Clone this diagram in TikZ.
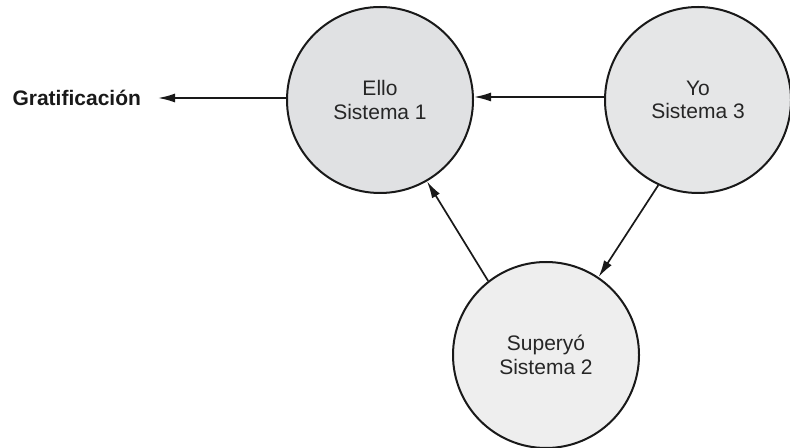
\documentclass[tikz,border=0pt]{standalone}
\usepackage{fontspec}
\setmainfont{Liberation Sans}
\usetikzlibrary{arrows.meta}
\definecolor{idgray}{RGB}{224,225,227}
\definecolor{egogray}{RGB}{229,230,231}
\definecolor{supgray}{RGB}{238,238,238}

\begin{document}
\begin{tikzpicture}[x=0.5pt, y=-0.5pt,
	sistema/.style={circle, draw=black!90, line width=1pt, minimum size=93pt, align=center, inner sep=0pt, font=\fontsize{10.5}{11.8}\selectfont, text=black!85},
	flecha/.style={line width=0.85pt, color=black!90, -{Latex[length=8.5pt,width=4.5pt]}}]
\useasboundingbox (0,0) rectangle (790,448);
\node[sistema, fill=idgray] (ello) at (380,100) {Ello\\Sistema 1};
\node[sistema, fill=egogray] (yo) at (698,100) {Yo\\Sistema 3};
\node[sistema, fill=supgray] (super) at (546,355) {Supery\'o\\Sistema 2};
\node[font=\fontsize{10.5}{12}\selectfont\bfseries, anchor=east, text=black!90] (grat) at (148,98) {Gratificaci\'on};
\path[flecha]
(ello.west |- grat.east) edge ([xshift=5pt]grat.east)
(yo.west |- 0,97) edge (ello.east |- 0,97)
(super.128) edge (ello.-60)
(yo.245) edge (super.56)
;
\end{tikzpicture}
\end{document}
